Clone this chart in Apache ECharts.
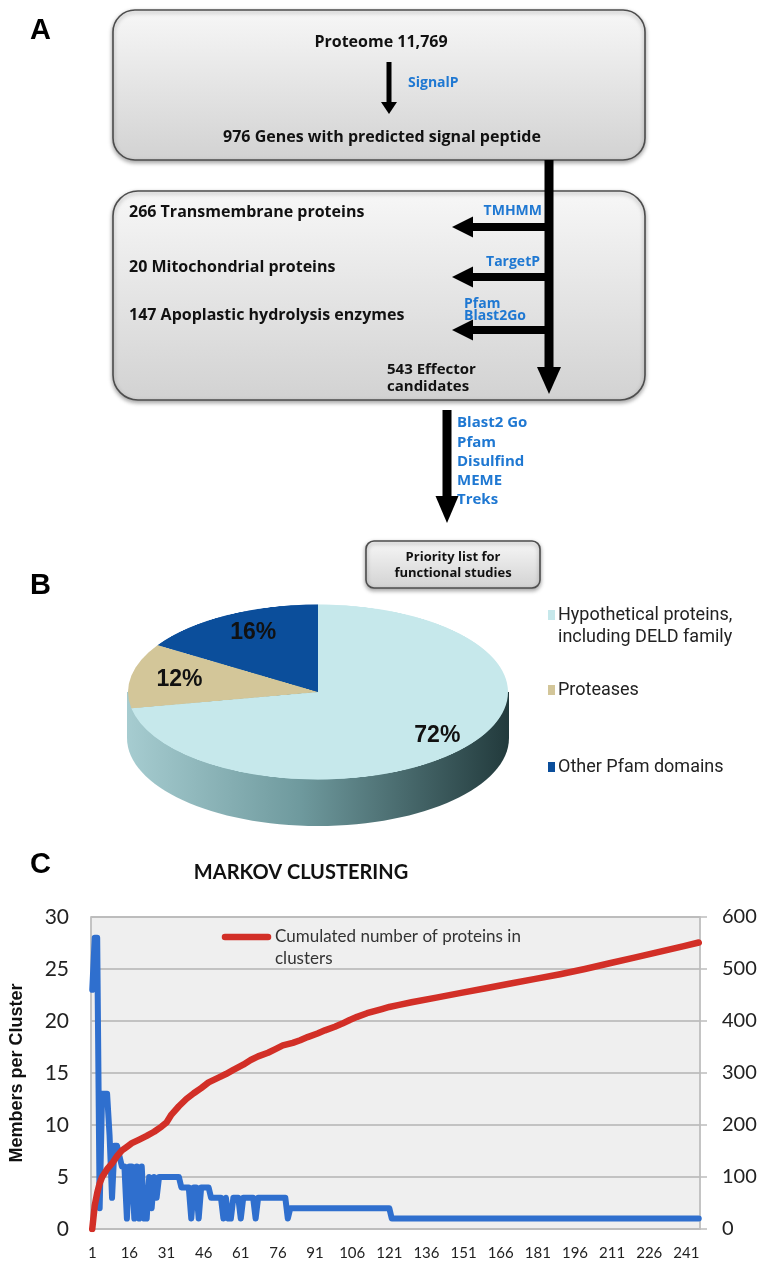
<!DOCTYPE html>
<html><head><meta charset="utf-8">
<script src="https://cdn.jsdelivr.net/npm/echarts@6/dist/echarts.min.js"></script>
<style>
html,body{margin:0;padding:0;background:#fff;}
#main{position:absolute;left:0;top:0;width:768px;height:1270px;z-index:1;}
#pie{position:absolute;transform-origin:50% 50%;z-index:2;}
#pieLabels{position:absolute;left:0;top:560px;width:768px;height:280px;z-index:3;}
</style>
</head><body>
<div id="main"></div>
<div id="pie"></div>
<div id="pieLabels"></div>
<script>
// ---------- Panel B data ----------
const pieNames = ['Hypothetical proteins,\nincluding DELD family', 'Proteases', 'Other Pfam domains'];
const pieValues = [72, 12, 16];
const pieColors = ['#c6e8eb', '#d3c699', '#0b4e9b'];

// ---------- Panel C data ----------
const clusterLabels = Array.from({length: 246}, (_, i) => String(i + 1));
const membersPerCluster = [
  23,28,28,2,13,13,13,9,3,8,
  8,7,6,6,1,6,6,1,6,1,
  6,1,1,5,2,5,3,5,5,5,
  5,5,5,5,5,5,4,4,4,4,
  1,4,4,1,4,4,4,4,3,3,
  3,3,3,1,3,1,1,3,3,3,
  1,3,3,3,3,3,1,3,3,3,
  3,3,3,3,3,3,3,3,3,1,
  2,2,2,2,2,2,2,2,2,2,
  2,2,2,2,2,2,2,2,2,2,
  2,2,2,2,2,2,2,2,2,2,
  2,2,2,2,2,2,2,2,2,2,
  2,1,1,1,1,1,1,1,1,1,
  1,1,1,1,1,1,1,1,1,1,
  1,1,1,1,1,1,1,1,1,1,
  1,1,1,1,1,1,1,1,1,1,
  1,1,1,1,1,1,1,1,1,1,
  1,1,1,1,1,1,1,1,1,1,
  1,1,1,1,1,1,1,1,1,1,
  1,1,1,1,1,1,1,1,1,1,
  1,1,1,1,1,1,1,1,1,1,
  1,1,1,1,1,1,1,1,1,1,
  1,1,1,1,1,1,1,1,1,1,
  1,1,1,1,1,1,1,1,1,1,
  1,1,1,1,1,1
];
const cumClusters = [1,2,3,4,5,7,9,11,13,15,17,20,23,26,29,31,33,36,39,42,45,48,52,55,58,62,65,68,72,75,78,82,85,88,92,95,99,102,105,108,112,115,118,121,125,130,140,150,160,170,180,190,200,210,220,230,240,246];
const cumProteins = [0,45,69,88,100,115,126,140,151,158,165,172,179,187,197,205,220,236,250,261,271,282,291,298,306,316,325,332,339,346,353,358,363,369,376,382,389,395,402,408,415,419,423,427,431,436,445,454,463,472,481,490,500,511,522,533,544,551];
const leftAxis = {min: 0, max: 30, interval: 5};
const rightAxis = {min: 0, max: 600, interval: 100};

// ---------- Panel A texts ----------
const flowTexts = {
  proteome: 'Proteome 11,769',
  signalP: 'SignalP',
  genes: '976 Genes with predicted signal peptide',
  filters: ['266 Transmembrane proteins', '20 Mitochondrial proteins', '147 Apoplastic hydrolysis enzymes'],
  filterTools: [['TMHMM'], ['TargetP'], ['Pfam', 'Blast2Go']],
  effector: ['543 Effector', 'candidates'],
  tools: ['Blast2 Go', 'Pfam', 'Disulfind', 'MEME', 'Treks'],
  priority: ['Priority list for', 'functional studies']
};

const BLUE = '#1f78d2';
const FLOW_FONT = '"Open Sans", "DejaVu Sans", sans-serif';
const CHART_FONT = 'Lato';
const boxGrad = {type: 'linear', x: 0, y: 0, x2: 0, y2: 1, colorStops: [{offset: 0, color: '#f7f7f7'}, {offset: 1, color: '#d2d2d2'}]};

function txt(text, x, y, font, fill, align) {
  return {type: 'text', silent: true, style: {text: text, x: x, y: y, font: font, fill: fill || '#111', textAlign: align || 'left', textVerticalAlign: 'middle'}};
}
function box(x, y, w, h, r) {
  return {type: 'rect', silent: true, shape: {x: x, y: y, width: w, height: h, r: r},
    style: {fill: boxGrad, stroke: '#4d4d4d', lineWidth: 1.6, shadowBlur: 4, shadowOffsetY: 2, shadowColor: 'rgba(0,0,0,0.35)'}};
}
function vArrow(x, y1, y2, w, headW, headH) {
  return [
    {type: 'rect', silent: true, shape: {x: x - w / 2, y: y1, width: w, height: y2 - y1 - headH + 2}, style: {fill: '#000'}},
    {type: 'polygon', silent: true, shape: {points: [[x - headW / 2, y2 - headH], [x + headW / 2, y2 - headH], [x, y2]]}, style: {fill: '#000'}}
  ];
}
function hArrowLeft(x1, x2, y, w, headW, headH) {
  return [
    {type: 'rect', silent: true, shape: {x: x2 + headH - 2, y: y - w / 2, width: x1 - x2 - headH + 2, height: w}, style: {fill: '#000'}},
    {type: 'polygon', silent: true, shape: {points: [[x2 + headH, y - headW / 2], [x2 + headH, y + headW / 2], [x2, y]]}, style: {fill: '#000'}}
  ];
}

const g = [];
// panel letters
g.push(txt('A', 30, 31, 'bold 29px "Liberation Sans", Arial, sans-serif', '#000'));
g.push(txt('B', 30, 586, 'bold 29px "Liberation Sans", Arial, sans-serif', '#000'));
g.push(txt('C', 30, 865, 'bold 29px "Liberation Sans", Arial, sans-serif', '#000'));

// Box 1
g.push(box(113, 10, 532, 150, 22));
g.push(txt(flowTexts.proteome, 381, 42, 'bold 16px ' + FLOW_FONT, '#111', 'center'));
g.push(...vArrow(389, 62, 114, 5, 16, 12));
g.push(txt(flowTexts.signalP, 408, 83, 'bold 14px ' + FLOW_FONT, BLUE));
g.push(txt(flowTexts.genes, 382, 137, 'bold 16px ' + FLOW_FONT, '#111', 'center'));

// Box 2
g.push(box(113, 191, 532, 209, 25));
g.push(...vArrow(549, 160, 394, 9, 24, 27));
const filterY = [227, 277, 330];
const filterTextY = [212, 267, 315];
filterY.forEach((y, i) => {
  g.push(...hArrowLeft(549, 452, y, 8, 21, 21));
  g.push(txt(flowTexts.filters[i], 129, filterTextY[i], 'bold 16px ' + FLOW_FONT));
});
g.push(txt(flowTexts.filterTools[0][0], 542, 211, 'bold 14px ' + FLOW_FONT, BLUE, 'right'));
g.push(txt(flowTexts.filterTools[1][0], 540, 262, 'bold 14px ' + FLOW_FONT, BLUE, 'right'));
g.push(txt(flowTexts.filterTools[2][0], 464, 304, 'bold 14px ' + FLOW_FONT, BLUE));
g.push(txt(flowTexts.filterTools[2][1], 464, 316, 'bold 14px ' + FLOW_FONT, BLUE));
g.push(txt(flowTexts.effector[0], 387, 370, 'bold 15px ' + FLOW_FONT));
g.push(txt(flowTexts.effector[1], 387, 387, 'bold 15px ' + FLOW_FONT));

// Arrow to priority list
g.push(...vArrow(447, 410, 523, 9, 23, 27));
flowTexts.tools.forEach((t, i) => g.push(txt(t, 457, 423 + i * 19.3, 'bold 15px ' + FLOW_FONT, BLUE)));
g.push(box(366, 541, 174, 47, 8));
g.push(txt(flowTexts.priority[0], 453, 557, 'bold 13px ' + FLOW_FONT, '#111', 'center'));
g.push(txt(flowTexts.priority[1], 453, 573, 'bold 13px ' + FLOW_FONT, '#111', 'center'));

// ---------- Panel B: 3D-looking pie ----------
const PIE = {cx: 318, cy: 692, rx: 191, ry: 88, depth: 46};
const sideGrad = {type: 'linear', x: 0, y: 0, x2: 1, y2: 0, colorStops: [
  {offset: 0, color: '#a6ccd0'}, {offset: 0.45, color: '#6f9a9e'}, {offset: 1, color: '#223a3c'}]};
g.push({type: 'rect', silent: true, shape: {x: PIE.cx - PIE.rx, y: PIE.cy, width: 2 * PIE.rx, height: PIE.depth}, style: {fill: sideGrad}});
g.push({type: 'ellipse', silent: true, shape: {cx: PIE.cx, cy: PIE.cy + PIE.depth, rx: PIE.rx, ry: PIE.ry}, style: {fill: sideGrad}});

// pie legend
const legendY = [615, 690, 767];
pieNames.forEach((n, i) => {
  g.push({type: 'rect', silent: true, shape: {x: 548, y: legendY[i] - 5, width: 7, height: 10}, style: {fill: pieColors[i]}});
  n.split('\n').forEach((line, j) => g.push(txt(line, 558, legendY[i] + j * 22, '18px Roboto, sans-serif', '#222')));
});

// ---------- Panel C extras ----------
g.push(txt('MARKOV CLUSTERING', 301, 873, 'bold 20px Lato, sans-serif', '#111', 'center'));
g.push({type: 'line', silent: true, z: 100, shape: {x1: 225, y1: 937, x2: 268, y2: 937}, style: {stroke: '#d22f27', lineWidth: 6.5, lineCap: 'round'}});
g.push(txt('Cumulated number of proteins in', 275, 937, '17px Lato, sans-serif', '#333'));
g.push(txt('clusters', 275, 959, '17px Lato, sans-serif', '#333'));

const axisGray = '#bdbdbd';
const main = echarts.init(document.getElementById('main'), null, {renderer: 'canvas'});
main.setOption({
  animation: false,
  backgroundColor: '#ffffff',
  grid: {left: 85, right: 68, top: 917, bottom: 41, show: true, backgroundColor: '#efefef', borderColor: '#cdcdcd', borderWidth: 1.5},
  xAxis: {
    type: 'category', data: clusterLabels, boundaryGap: true,
    axisLine: {lineStyle: {color: axisGray, width: 1.5}},
    axisTick: {show: false},
    axisLabel: {interval: 14, color: '#222', fontSize: 15, fontFamily: CHART_FONT, margin: 17}
  },
  yAxis: [
    {type: 'value', min: leftAxis.min, max: leftAxis.max, interval: leftAxis.interval,
     name: 'Members per Cluster', nameLocation: 'middle', nameGap: 65,
     nameTextStyle: {fontWeight: 'bold', fontSize: 18, fontFamily: 'Liberation Sans', color: '#111'},
     axisLine: {show: true, lineStyle: {color: axisGray, width: 1.5}},
     axisTick: {show: false},
     axisLabel: {color: '#222', fontSize: 21, fontFamily: CHART_FONT, margin: 22},
     splitLine: {lineStyle: {color: '#b3b3b3', width: 1.5}}},
    {type: 'value', min: rightAxis.min, max: rightAxis.max, interval: rightAxis.interval, position: 'right',
     axisLine: {show: true, lineStyle: {color: axisGray, width: 1.5}},
     axisTick: {show: true, length: 7, lineStyle: {color: axisGray, width: 1.5}},
     axisLabel: {color: '#222', fontSize: 20, fontFamily: CHART_FONT, margin: 22},
     splitLine: {show: false}}
  ],
  series: [
    {type: 'line', name: 'Members per Cluster', yAxisIndex: 0, data: membersPerCluster, showSymbol: false, silent: true,
     lineStyle: {color: '#2f6fce', width: 6, join: 'round', cap: 'round'}, itemStyle: {color: '#2f6fce'}, z: 2},
    {type: 'line', name: 'Cumulated number of proteins in clusters', yAxisIndex: 1,
     data: cumClusters.map((c, i) => [String(c), cumProteins[i]]), showSymbol: false, silent: true,
     lineStyle: {color: '#d22f27', width: 6.5, join: 'round', cap: 'round'}, itemStyle: {color: '#d22f27'}, z: 3}
  ],
  graphic: {elements: g}
});

// pie drawn by ECharts then flattened with CSS to give a tilted top face
const pieDiv = document.getElementById('pie');
pieDiv.style.left = (PIE.cx - PIE.rx) + 'px';
pieDiv.style.top = (PIE.cy - PIE.rx) + 'px';
pieDiv.style.width = (2 * PIE.rx) + 'px';
pieDiv.style.height = (2 * PIE.rx) + 'px';
pieDiv.style.transform = 'scaleY(' + (PIE.ry / PIE.rx) + ')';
const pie = echarts.init(pieDiv, null, {renderer: 'canvas'});
pie.setOption({
  animation: false,
  series: [{
    type: 'pie', radius: PIE.rx - 1, center: ['50%', '50%'], startAngle: 90, clockwise: true, silent: true,
    label: {show: false}, labelLine: {show: false},
    itemStyle: {borderWidth: 0},
    data: pieValues.map((v, i) => ({name: pieNames[i], value: v, itemStyle: {color: pieColors[i]}}))
  }]
});

// percent labels on the tilted pie, along each slice's mid angle (overlay layer)
const OFF = 560;
const lbl = [];
const total = pieValues.reduce((a, b) => a + b, 0);
let startDeg = 90;
pieValues.forEach((v) => {
  const span = v / total * 360;
  const mid = (startDeg - span / 2) * Math.PI / 180;
  startDeg -= span;
  const r = 0.77;
  lbl.push({type: 'text', silent: true, style: {
    text: Math.round(v / total * 100) + '%',
    x: PIE.cx + r * PIE.rx * Math.cos(mid) + 6, y: PIE.cy - OFF - r * PIE.ry * Math.sin(mid),
    font: 'bold 23px "Liberation Sans", Arial, sans-serif', fill: '#111', textAlign: 'center', textVerticalAlign: 'middle'}});
});
const labelsChart = echarts.init(document.getElementById('pieLabels'), null, {renderer: 'canvas'});
labelsChart.setOption({animation: false, graphic: {elements: lbl}});
</script>
</body></html>
